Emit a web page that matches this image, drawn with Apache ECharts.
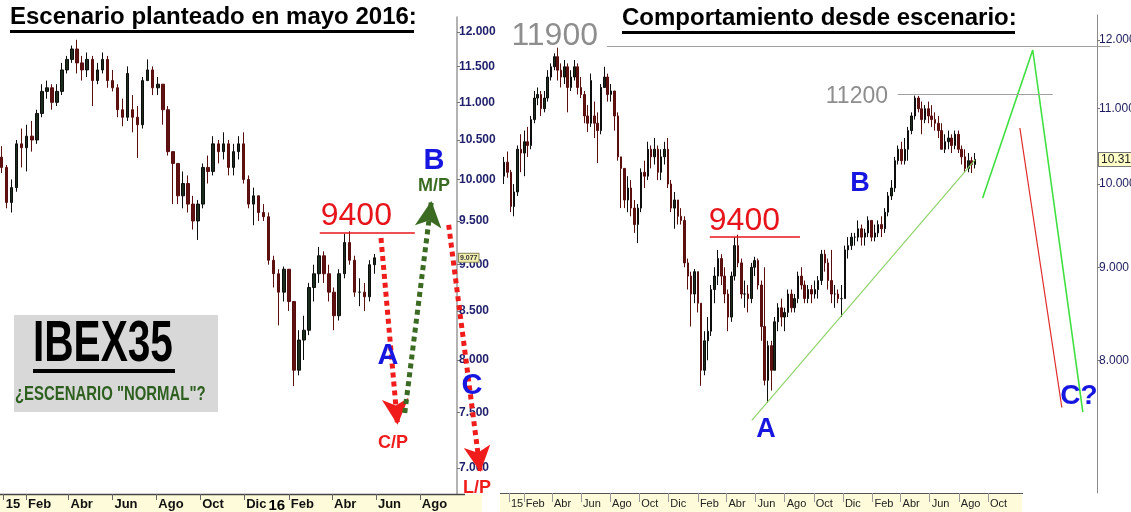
<!DOCTYPE html>
<html><head><meta charset="utf-8">
<script src="https://cdn.jsdelivr.net/npm/echarts@6/dist/echarts.min.js"></script>
<style>html,body{margin:0;padding:0;background:#fff}#c{width:1131px;height:512px}</style>
</head><body><div id="c"></div><script>
// ---------- DATA (weekly IBEX35 candles: week, open, close, low, high) ----------
const ohlc2015 = [
['2014-12-22',10100,10280,10000,10350],['2014-12-29',10280,10150,10080,10420],
['2015-01-05',10150,9720,9650,10180],['2015-01-12',9720,9900,9600,10000],
['2015-01-19',9900,10450,9850,10500],['2015-01-26',10450,10400,10150,10650],
['2015-02-02',10400,10550,10100,10700],['2015-02-09',10550,10500,10350,10750],
['2015-02-16',10500,10850,10450,10900],['2015-02-23',10850,11150,10800,11250],
['2015-03-02',11150,11200,11050,11300],['2015-03-09',11200,11000,10900,11250],
['2015-03-16',11000,11150,10950,11250],['2015-03-23',11150,11450,11100,11550],
['2015-03-30',11450,11600,11400,11650],['2015-04-06',11600,11750,11550,11800],
['2015-04-13',11750,11550,11400,11884],['2015-04-20',11550,11450,11300,11650],
['2015-04-27',11450,11600,11350,11700],['2015-05-04',11600,11300,10950,11650],
['2015-05-11',11300,11450,11250,11550],['2015-05-18',11450,11600,11400,11700],
['2015-05-25',11600,11300,11200,11650],['2015-06-01',11300,11200,11150,11450],
['2015-06-08',11200,10900,10800,11250],['2015-06-15',10900,10800,10680,11050],
['2015-06-22',10800,11400,10750,11500],['2015-06-29',10900,10800,10600,11100],
['2015-07-06',10800,10700,10270,10950],['2015-07-13',10700,11300,10650,11350],
['2015-07-20',11300,11450,11300,11600],['2015-07-27',11450,11200,11100,11500],
['2015-08-03',11200,11250,11100,11350],['2015-08-10',11250,10900,10700,11250],
['2015-08-17',10900,10350,10300,10950],['2015-08-24',10350,10200,9700,10350],
['2015-08-31',10200,9800,9700,10200],['2015-09-07',9800,9950,9650,10100],
['2015-09-14',9950,9700,9600,10050],['2015-09-21',9700,9500,9400,9800],
['2015-09-28',9500,9700,9280,9750],['2015-10-05',9700,10150,9650,10200],
['2015-10-12',10150,10100,9950,10300],['2015-10-19',10100,10450,10050,10550],
['2015-10-26',10450,10350,10200,10500],['2015-11-02',10350,10450,10250,10600],
['2015-11-09',10450,10150,10050,10500],['2015-11-16',10150,10350,10050,10450],
['2015-11-23',10350,10450,10250,10550],['2015-11-30',10450,10000,9950,10600],
['2015-12-07',10000,9700,9650,10050],['2015-12-14',9700,9800,9450,9900],
['2015-12-21',9800,9600,9500,9800],['2015-12-28',9600,9550,9500,9700]
];
const ohlc2016 = [
['2016-01-04',9550,9050,9000,9600],['2016-01-11',9050,8900,8750,9100],
['2016-01-18',8900,8700,8350,8950],['2016-01-25',8700,8950,8600,8980],
['2016-02-01',8950,8600,8500,8950],['2016-02-08',8600,7900,7746,8600],
['2016-02-15',7900,8200,7850,8300],['2016-02-22',8200,8300,8000,8450],
['2016-02-29',8300,8750,8250,8800],['2016-03-07',8750,8900,8600,9000],
['2016-03-14',8900,9100,8800,9200],['2016-03-21',9100,8900,8800,9150],
['2016-03-28',8900,8700,8600,9000],['2016-04-04',8700,8450,8300,8750],
['2016-04-11',8450,8900,8400,8950],['2016-04-18',8900,9250,8850,9350],
['2016-04-25',9250,9050,9000,9380],['2016-05-02',9050,8700,8650,9100],
['2016-05-09',8700,8700,8550,8850],['2016-05-16',8700,8650,8500,8800],
['2016-05-23',8650,9000,8600,9050],['2016-05-30',9000,9077,8900,9120],
['2016-06-06',9077,8800,8750,9100],['2016-06-13',8800,8350,8200,8850],
['2016-06-20',8350,7800,7750,9000],['2016-06-27',7800,8150,7580,8200],
['2016-07-04',8150,7900,7700,8200],['2016-07-11',7900,8400,7900,8450],
['2016-07-18',8400,8550,8300,8600],['2016-07-25',8550,8450,8350,8650],
['2016-08-01',8450,8500,8300,8550],['2016-08-08',8500,8700,8450,8750],
['2016-08-15',8700,8550,8500,8750],['2016-08-22',8550,8650,8500,8700],
['2016-08-29',8650,8900,8600,8950],['2016-09-05',8900,8800,8750,9000],
['2016-09-12',8800,8650,8600,8850],['2016-09-19',8650,8750,8600,8800],
['2016-09-26',8750,8700,8600,8800],['2016-10-03',8700,8750,8650,8850],
['2016-10-10',8750,8850,8650,8900],['2016-10-17',8850,9150,8800,9200],
['2016-10-24',9150,9050,8950,9200],['2016-10-31',9050,8850,8750,9100],
['2016-11-07',8850,8700,8600,9200],['2016-11-14',8700,8700,8550,8800],
['2016-11-21',8700,8650,8600,8750],['2016-11-28',8650,8650,8450,8800],
['2016-12-05',8650,9200,8650,9250],['2016-12-12',9200,9250,9100,9350],
['2016-12-19',9250,9350,9200,9400],['2016-12-26',9350,9350,9250,9400]
];
const ohlc2017 = [
['2017-01-02',9350,9450,9300,9550],['2017-01-09',9450,9350,9250,9500],
['2017-01-16',9350,9400,9250,9450],['2017-01-23',9400,9550,9350,9600],
['2017-01-30',9550,9350,9300,9550],['2017-02-06',9350,9400,9300,9500],
['2017-02-13',9400,9500,9350,9550],['2017-02-20',9500,9450,9350,9600],
['2017-02-27',9450,9650,9400,9700],['2017-03-06',9650,9850,9600,9900],
['2017-03-13',9850,9950,9800,10050],['2017-03-20',9950,10300,9900,10350],
['2017-03-27',10300,10450,10250,10500],['2017-04-03',10450,10300,10250,10550],
['2017-04-10',10300,10450,10250,10600],['2017-04-17',10450,10700,10300,10750],
['2017-04-24',10700,10900,10650,10950],['2017-05-01',10900,11150,10850,11184],
['2017-05-08',11150,11000,10950,11180],['2017-05-15',11000,10850,10650,11100],
['2017-05-22',10850,11000,10800,11050],['2017-05-29',11000,10900,10800,11100],
['2017-06-05',10900,10850,10750,11050],['2017-06-12',10850,10800,10700,10950],
['2017-06-19',10800,10700,10600,10900],['2017-06-26',10700,10450,10450,10800],
['2017-07-03',10450,10550,10400,10650],['2017-07-10',10550,10600,10450,10700],
['2017-07-17',10600,10500,10400,10650],['2017-07-24',10500,10650,10450,10700],
['2017-07-31',10650,10450,10400,10700],['2017-08-07',10450,10350,10250,10500],
['2017-08-14',10350,10200,10150,10450],['2017-08-21',10200,10300,10150,10400],
['2017-08-28',10300,10250,10140,10350],['2017-09-04',10250,10317,10200,10400]
];
const leftLastWeek = '2016-05-30';      // scenario drawn in May 2016

// tick labels
const leftTickDates  = ['2015-01-01','2015-02-01','2015-04-01','2015-06-01','2015-08-01','2015-10-01','2015-12-01','2016-01-01','2016-02-01','2016-04-01','2016-06-01','2016-08-01'];
const leftTickLabels = ['15','Feb','Abr','Jun','Ago','Oct','Dic','16','Feb','Abr','Jun','Ago'];
const rightTickDates  = ['2015-01-01','2015-02-01','2015-04-01','2015-06-01','2015-08-01','2015-10-01','2015-12-01','2016-02-01','2016-04-01','2016-06-01','2016-08-01','2016-10-01','2016-12-01','2017-02-01','2017-04-01','2017-06-01','2017-08-01','2017-10-01'];
const rightTickLabels = ['15','Feb','Abr','Jun','Ago','Oct','Dic','Feb','Abr','Jun','Ago','Oct','Dic','Feb','Abr','Jun','Ago','Oct'];
const leftPriceTicks  = [7000,7500,8000,8500,9000,9500,10000,10500,11000,11500,12000];
const rightPriceTicks = [8000,9000,10000,11000,12000];

// annotations (date, value) as drawn on the picture
const label9400 = '9400', label11900 = '11900', label11200 = '11200';
const level9400Left  = [['2016-03-15',9360],['2016-07-25',9360]];
const level9400Right = [['2016-02-26',9360],['2016-09-02',9360]];
const level11900 = [['2015-07-25',11900],['2018-06-14',11900]];
const level11200 = [['2017-03-26',11200],['2018-02-14',11200]];
const arrowCP = [['2016-06-08',9302],['2016-07-01',7384]];
const arrowMP = [['2016-07-11',7493],['2016-08-17',9737]];
const arrowLP = [['2016-09-10',9455],['2016-10-24',6966]];
const trendAB    = [['2016-05-24',7414],['2017-09-04',10310]];
const projGreen  = [['2017-09-20',9825],['2018-01-03',11849],['2018-04-18',7493]];
const projRed    = [['2017-12-07',10735],['2018-03-05',7536]];

// ---------- helpers ----------
const DAY = 86400000;
function toTime(s){ const p = s.split('-').map(Number); return new Date(p[0], p[1]-1, p[2]).getTime(); }
const allRows = ohlc2015.concat(ohlc2016, ohlc2017);
const rowsToData = rows => rows.map(r => [toTime(r[0]), r[1], r[2], r[3], r[4]]);
const rightData = rowsToData(allRows);
const leftData = rowsToData(allRows.filter(r => r[0] <= leftLastWeek));
const leftLast = leftData[leftData.length-1][2];
const rightLast = rightData[rightData.length-1][2];
const pts = a => a.map(p => [toTime(p[0]), p[1]]);
const seg = a => { const q = pts(a); return [{coord:q[0]},{coord:q[1]}]; };

const FONT = '"Liberation Sans", Arial, sans-serif';
const NARROW = '"Liberation Sans Narrow", "Arial Narrow", "Liberation Sans", sans-serif';
const fmtPrice = v => (v/1000).toFixed(3);

// layout scale (pixels per day) of each panel
const jan15 = toTime('2015-01-01');
const leftMin = jan15 - 3.7/0.72*DAY, leftMax = leftMin + 500/0.72*DAY;
const rightMin = jan15 - 9/0.477*DAY, rightMax = rightMin + 631/0.477*DAY;

function labelMap(dates, labels){ const m = {}; dates.forEach((d,i)=>{ m[toTime(d)] = labels[i]; }); return m; }
const leftLblMap = labelMap(leftTickDates, leftTickLabels);
const rightLblMap = labelMap(rightTickDates, rightTickLabels);
function findLbl(m, v){ for (const k in m) { if (Math.abs(+k - v) < DAY/2) return m[k]; } return ''; }

const candleStyle = { color:'#1c2c1c', color0:'#5e1212', borderColor:'#0d0d0d', borderColor0:'#5a0e0e', borderWidth:1 };
const letter = (x, y, t, size, color, fam) => ({type:'text', z:50, silent:true, x, y,
  style:{text:t, fill:color, fontFamily:fam || FONT, fontWeight:'bold', fontSize:size, align:'center', verticalAlign:'middle', textAlign:'center', textVerticalAlign:'middle'}});

const chart = echarts.init(document.getElementById('c'), null, {renderer:'canvas'});
const option = {
  animation:false,
  backgroundColor:'#fff',
  grid:[
    {left:0, top:17, width:500, height:477, outerBoundsMode:'none', containLabel:false},
    {left:500, top:15, width:631, height:478, outerBoundsMode:'none', containLabel:false}
  ],
  xAxis:[
    { type:'value', gridIndex:0, min:leftMin, max:leftMax, z:10, scale:true,
      axisLine:{show:false}, splitLine:{show:false},
      axisTick:{show:true, length:6, lineStyle:{color:'#666'},
        customValues: leftTickDates.filter((d,i)=>leftTickLabels[i] !== '16').map(toTime)},
      axisLabel:{ customValues: leftTickDates.map(toTime), align:'left', margin:4, padding:[0,0,0,2],
        color:'#111', fontFamily:NARROW, fontWeight:'bold', fontSize:13,
        formatter: v => { const l = findLbl(leftLblMap, v); return l === '16' ? '{yr|16}' : l; },
        rich:{ yr:{ fontFamily:FONT, fontWeight:'bold', fontSize:15, color:'#000' } } } },
    { type:'value', gridIndex:1, min:rightMin, max:rightMax, z:10, scale:true,
      axisLine:{show:false}, splitLine:{show:false},
      axisTick:{show:true, length:9, lineStyle:{color:'#999'}, customValues: rightTickDates.map(toTime)},
      axisLabel:{ customValues: rightTickDates.map(toTime), align:'left', margin:5, padding:[0,0,0,2],
        color:'#222', fontFamily:NARROW, fontSize:11,
        formatter: v => findLbl(rightLblMap, v) } }
  ],
  yAxis:[
    { type:'log', gridIndex:0, position:'right', offset:-43, min:6779, max:12224,
      splitLine:{show:false},
      axisLine:{show:true, lineStyle:{color:'#9a9a9a', width:1.5}},
      axisTick:{show:true, length:3, lineStyle:{color:'#777'}, customValues:leftPriceTicks},
      axisLabel:{ customValues: leftPriceTicks.concat([leftLast]), margin:2,
        color:'#1f1f6b', fontFamily:NARROW, fontWeight:'bold', fontSize:12,
        formatter: v => Math.abs(v-leftLast) < 1 ? '{box|' + fmtPrice(leftLast) + '}' : fmtPrice(v),
        rich:{ box:{ fontSize:7, color:'#333', backgroundColor:'#f3efb0', borderColor:'#8a8a5a', borderWidth:1, padding:[1,1,0,1] } } } },
    { type:'log', gridIndex:1, position:'right', offset:-34, min:6763, max:12386,
      splitLine:{show:false},
      axisLine:{show:true, lineStyle:{color:'#8a8a8a', width:1}},
      axisTick:{show:true, length:3, lineStyle:{color:'#777'}, customValues:rightPriceTicks},
      axisLabel:{ customValues: rightPriceTicks.concat([rightLast]), margin:2,
        color:'#1c1c5e', fontFamily:NARROW, fontSize:12,
        formatter: v => Math.abs(v-rightLast) < 1 ? '{box|' + fmtPrice(rightLast) + '}' : fmtPrice(v),
        rich:{ box:{ fontSize:12, fontFamily:NARROW, color:'#222', backgroundColor:'#ffffc8', borderColor:'#777', borderWidth:1, padding:[1,2,0,2] } } } }
  ],
  series:[
    { type:'candlestick', xAxisIndex:0, yAxisIndex:0, barWidth:3, data:leftData, itemStyle:candleStyle, silent:true },
    { type:'line', xAxisIndex:0, yAxisIndex:0, data:[], clip:false, silent:true,
      markLine:{ silent:true, symbol:'none', lineStyle:{color:'#e8141b', width:1.5, type:'solid'},
        label:{show:true, position:'insideStartTop', formatter:label9400, color:'#e8141b', fontFamily:FONT, fontSize:32, distance:1},
        data:[ seg(level9400Left) ] } },
    { type:'line', xAxisIndex:0, yAxisIndex:0, data:[], clip:false, silent:true,
      markLine:{ silent:true, symbol:['none','arrow'], symbolSize:[20,26], label:{show:false},
        lineStyle:{color:'#f01c1c', width:5, type:[5,4], cap:'butt', opacity:1},
        data:[ seg(arrowCP), seg(arrowLP) ] } },
    { type:'line', xAxisIndex:0, yAxisIndex:0, data:[], clip:false, silent:true,
      markLine:{ silent:true, symbol:['none','arrow'], symbolSize:[20,26], label:{show:false},
        lineStyle:{color:'#3b6b22', width:5, type:[5,4], cap:'butt', opacity:1},
        data:[ seg(arrowMP) ] } },

    { type:'candlestick', xAxisIndex:1, yAxisIndex:1, barWidth:2, data:rightData, itemStyle:candleStyle, silent:true },
    { type:'line', xAxisIndex:1, yAxisIndex:1, data:[], clip:false, silent:true,
      markLine:{ silent:true, symbol:'none', lineStyle:{color:'#e8141b', width:1.5, type:'solid'},
        label:{show:true, position:'insideStartTop', formatter:label9400, color:'#e8141b', fontFamily:FONT, fontSize:32, distance:-1},
        data:[ seg(level9400Right) ] } },
    { type:'line', xAxisIndex:1, yAxisIndex:1, data:[], clip:false, silent:true,
      markLine:{ silent:true, symbol:'none', lineStyle:{color:'#a0a0a0', width:1, type:'solid'}, label:{show:false},
        data:[ seg(level11900) ] } },
    { type:'line', xAxisIndex:1, yAxisIndex:1, data:[], clip:false, silent:true,
      markLine:{ silent:true, symbol:'none', lineStyle:{color:'#a0a0a0', width:1, type:'solid'}, label:{show:false},
        data:[ seg(level11200) ] } },
    { type:'line', xAxisIndex:1, yAxisIndex:1, data:pts(trendAB), showSymbol:false, symbol:'none', silent:true,
      lineStyle:{color:'#8ed36a', width:1.2} },
    { type:'line', xAxisIndex:1, yAxisIndex:1, data:pts(projGreen), showSymbol:false, symbol:'none', silent:true,
      lineStyle:{color:'#3fe03f', width:1.6} },
    { type:'line', xAxisIndex:1, yAxisIndex:1, data:pts(projRed), showSymbol:false, symbol:'none', silent:true,
      lineStyle:{color:'#e02a2a', width:1.2} }
  ],
  graphic:[
    {type:'rect', z:0, silent:true, shape:{x:0, y:494, width:482, height:18}, style:{fill:'#fdfbd9'}},
    {type:'rect', z:0, silent:true, shape:{x:500, y:494, width:522, height:18}, style:{fill:'#fdfbd9'}},
    {type:'line', z:5, silent:true, shape:{x1:0, y1:494.5, x2:465, y2:494.5}, style:{stroke:'#444', lineWidth:1.5}},
    {type:'line', z:5, silent:true, shape:{x1:500, y1:493.5, x2:1023, y2:493.5}, style:{stroke:'#555', lineWidth:1}},
    {type:'text', z:50, silent:true, x:10, y:5, style:{text:'Escenario planteado en mayo 2016:', fill:'#000', fontFamily:FONT, fontWeight:'bold', fontSize:24}},
    {type:'rect', z:50, silent:true, shape:{x:10, y:30, width:404, height:3}, style:{fill:'#000'}},
    {type:'text', z:50, silent:true, x:622, y:6, style:{text:'Comportamiento desde escenario:', fill:'#000', fontFamily:FONT, fontWeight:'bold', fontSize:24}},
    {type:'rect', z:50, silent:true, shape:{x:622, y:31, width:393, height:3}, style:{fill:'#000'}},
    {type:'text', z:50, silent:true, x:598, y:36, style:{text:label11900, fill:'#8e8e8e', fontFamily:FONT, fontSize:32, align:'right', verticalAlign:'middle', textAlign:'right', textVerticalAlign:'middle'}},
    {type:'text', z:50, silent:true, x:888, y:97, style:{text:label11200, fill:'#8e8e8e', fontFamily:FONT, fontSize:23, align:'right', verticalAlign:'middle', textAlign:'right', textVerticalAlign:'middle'}},
    {type:'rect', z:20, silent:true, shape:{x:14, y:315, width:204, height:97}, style:{fill:'#d8d8d8'}},
    {type:'text', z:50, silent:true, x:33, y:316, scaleX:0.70, style:{text:'IBEX35', fill:'#000', fontFamily:FONT, fontWeight:'bold', fontSize:58}},
    {type:'rect', z:50, silent:true, shape:{x:33, y:369, width:142, height:4}, style:{fill:'#000'}},
    {type:'text', z:50, silent:true, x:15, y:384, scaleX:0.71, style:{text:'¿ESCENARIO "NORMAL"?', fill:'#2d5f1f', fontFamily:FONT, fontWeight:'bold', fontSize:21}},
    letter(388, 356, 'A', 29, '#1616e0'),
    letter(434, 161, 'B', 29, '#1616e0'),
    letter(472, 386, 'C', 29, '#1616e0'),
    letter(434, 186, 'M/P', 18, '#3b6b22', NARROW),
    letter(393, 443, 'C/P', 18, '#f01c1c', NARROW),
    letter(477, 488, 'L/P', 18, '#f01c1c', NARROW),
    letter(766, 430, 'A', 27, '#1616e0'),
    letter(860, 184, 'B', 27, '#1616e0'),
    letter(1079, 396, 'C?', 28, '#1616e0')
  ]
};
chart.setOption(option);
</script></body></html>
